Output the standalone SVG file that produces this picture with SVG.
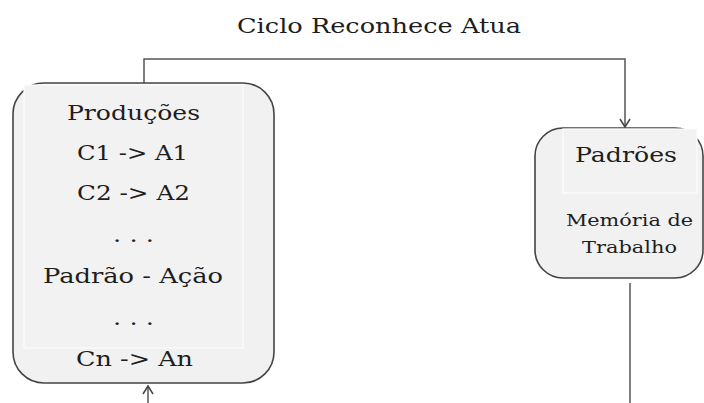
<svg xmlns="http://www.w3.org/2000/svg" width="704" height="403" viewBox="0 0 704 403">
<defs>
<style>
.box{fill:#f1f1f1;stroke:#444;stroke-width:1.6}
.inner{fill:#f2f2f2;stroke:#fcfcfc;stroke-width:1.2}
.t{font-family:"DejaVu Serif","Liberation Serif",serif;fill:#1e1e1e;text-anchor:middle}
.c{fill:none;stroke:#555;stroke-width:1.5}
</style>
<marker id="arr" markerWidth="12" markerHeight="12" refX="10" refY="6" orient="auto" markerUnits="userSpaceOnUse">
<path d="M2,1 L10,6 L2,11" fill="none" stroke="#444" stroke-width="1.5"/>
</marker>
</defs>
<rect width="704" height="403" fill="#fff"/>
<text class="t" x="379" y="33" font-size="21" textLength="284" lengthAdjust="spacingAndGlyphs">Ciclo Reconhece Atua</text>
<g id="connectors">
<path class="c" d="M144,83 L144,59 L625,59 L625,127" marker-end="url(#arr)"/>
<path class="c" d="M630,283 L630,403"/>
<path class="c" d="M148,403 L148,386" marker-end="url(#arr)"/>
</g>
<g id="producoes">
<rect class="box" x="13" y="83" width="261" height="300" rx="31"/>
<rect class="inner" x="24" y="85" width="219" height="263"/>
<text class="t" x="133.5" y="120" font-size="21" textLength="133" lengthAdjust="spacingAndGlyphs">Produções</text>
<text class="t" x="132.5" y="160" font-size="21" textLength="111" lengthAdjust="spacingAndGlyphs">C1 -&gt; A1</text>
<text class="t" x="133.5" y="200" font-size="21" textLength="113" lengthAdjust="spacingAndGlyphs">C2 -&gt; A2</text>
<text class="t" x="133.5" y="242" font-size="21" textLength="41" lengthAdjust="spacingAndGlyphs">. . .</text>
<text class="t" x="133" y="283" font-size="21" textLength="180" lengthAdjust="spacingAndGlyphs">Padrão - Ação</text>
<text class="t" x="133.5" y="325" font-size="21" textLength="41" lengthAdjust="spacingAndGlyphs">. . .</text>
<text class="t" x="134.5" y="366" font-size="21" textLength="117" lengthAdjust="spacingAndGlyphs">Cn -&gt; An</text>
</g>
<g id="memoria">
<rect class="box" x="535" y="128" width="168" height="150" rx="28"/>
<rect class="inner" x="563" y="129" width="134" height="64"/>
<text class="t" x="626" y="162" font-size="21" textLength="102" lengthAdjust="spacingAndGlyphs">Padrões</text>
<text class="t" x="629.5" y="226" font-size="17" textLength="127" lengthAdjust="spacingAndGlyphs">Memória de</text>
<text class="t" x="629.5" y="253" font-size="17" textLength="95" lengthAdjust="spacingAndGlyphs">Trabalho</text>
</g>
</svg>
